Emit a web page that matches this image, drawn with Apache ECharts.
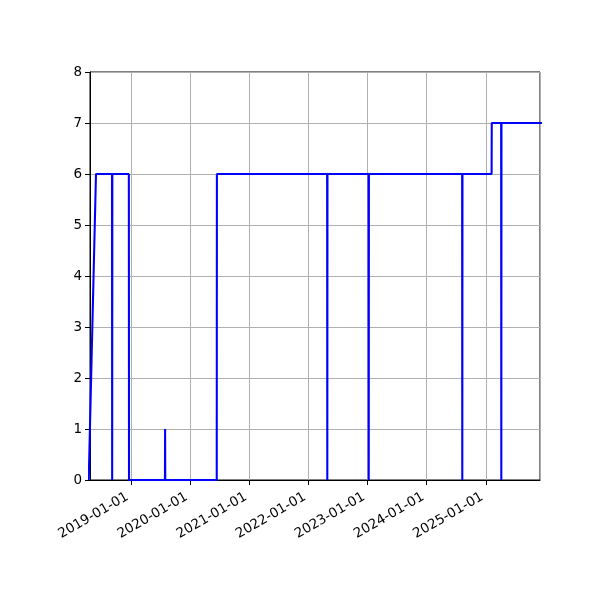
<!DOCTYPE html>
<html>
<head>
<meta charset="utf-8">
<script src="https://cdn.jsdelivr.net/npm/echarts@6/dist/echarts.min.js"></script>
<style>html,body{margin:0;padding:0;background:#fff}#c{width:600px;height:600px}</style>
</head>
<body>
<div id="c"></div>
<script>
var dates = ['2018-04-15','2018-05-30','2018-09-06','2018-09-07','2018-09-08','2018-12-19','2018-12-20','2019-07-30','2019-07-31','2019-08-01','2020-06-14','2020-06-15','2022-04-27','2022-04-28','2022-04-29','2023-01-08','2023-01-09','2023-01-10','2024-08-08','2024-08-09','2024-08-10','2025-02-06','2025-02-07','2025-04-06','2025-04-07','2025-04-08','2025-12-31'];
var values = [0,6,6,0,6,6,0,0,1,0,0,6,6,0,6,6,0,6,6,0,6,6,7,7,0,7,7];
var xMin = '2018-04-23';
var xMax = '2025-12-02';
var yTicks = [0,1,2,3,4,5,6,7,8];

var chart = echarts.init(document.getElementById('c'));
var font = 'DejaVu Sans';
chart.setOption({
  animation: false,
  backgroundColor: '#fff',
  grid: {left: 90, right: 60, top: 72, bottom: 120, show: true, borderColor: '#000', borderWidth: 1, backgroundColor: 'transparent', outerBoundsMode: 'none', containLabel: false},
  xAxis: {
    type: 'time',
    min: xMin, max: xMax,
    minInterval: 365*24*3600*1000,
    maxInterval: 366*24*3600*1000,
    axisLine: {show: true, lineStyle: {color: '#000', width: 1}},
    axisTick: {show: true, length: 5, lineStyle: {color: '#000', width: 1}},
    splitLine: {show: true, lineStyle: {color: '#b0b0b0', width: 1}},
    minorTick: {show: false},
    axisLabel: {formatter: '{yyyy}-{MM}-{dd}', rotate: 30, color: '#000', fontFamily: font, fontSize: 13.5, margin: 14, padding: [0, 4, 0, 0], hideOverlap: false, showMinLabel: false, showMaxLabel: false}
  },
  yAxis: {
    type: 'value', min: yTicks[0], max: yTicks[yTicks.length-1], interval: 1,
    axisLine: {show: true, lineStyle: {color: '#000', width: 1}},
    axisTick: {show: true, length: 5, lineStyle: {color: '#000', width: 1}},
    splitLine: {show: true, lineStyle: {color: '#b0b0b0', width: 1}},
    axisLabel: {color: '#000', fontFamily: font, fontSize: 13.5, margin: 8}
  },
  series: [{
    type: 'line',
    data: dates.map(function(d, i){ return [d, values[i]]; }),
    showSymbol: false,
    clip: true,
    lineStyle: {color: '#0000ff', width: 2.08},
    itemStyle: {color: '#0000ff'}
  }]
});
</script>
</body>
</html>
